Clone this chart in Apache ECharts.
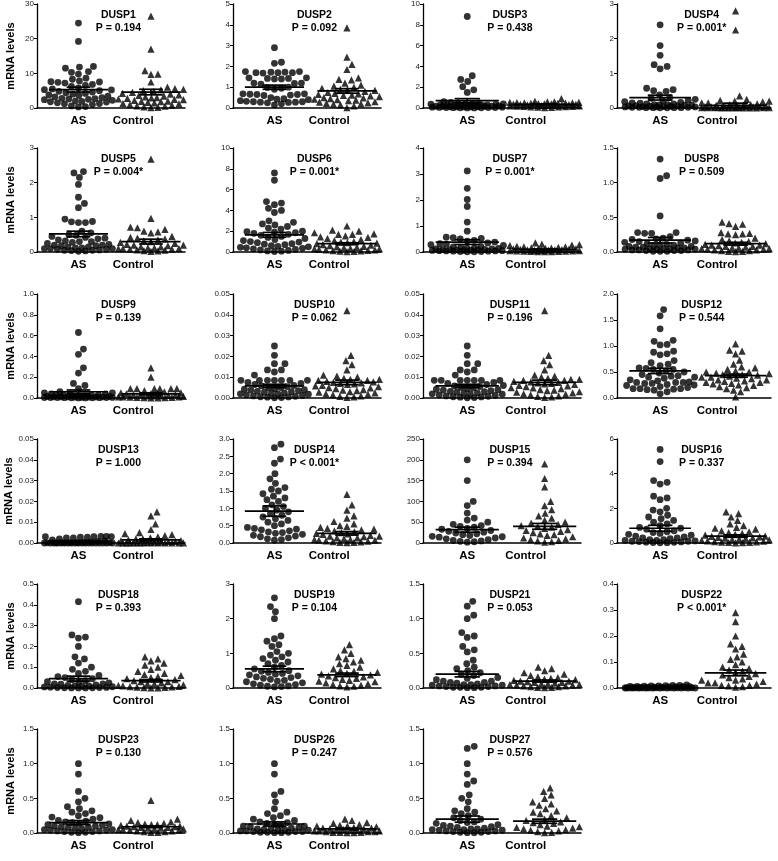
<!DOCTYPE html>
<html><head><meta charset="utf-8">
<script src="https://cdn.jsdelivr.net/npm/echarts@6/dist/echarts.min.js"></script>
<style>html,body{margin:0;padding:0;background:#fff}#c{width:778px;height:861px}</style>
</head><body><div id="c"></div>
<script>
// ---------- DATA ----------
const genes = ['DUSP1','DUSP2','DUSP3','DUSP4','DUSP5','DUSP6','DUSP7','DUSP8','DUSP9','DUSP10','DUSP11','DUSP12','DUSP13','DUSP14','DUSP15','DUSP16','DUSP18','DUSP19','DUSP21','DUSP22','DUSP23','DUSP26','DUSP27'];
const pLabels = ['P = 0.194','P = 0.092','P = 0.438','P = 0.001*','P = 0.004*','P = 0.001*','P = 0.001*','P = 0.509','P = 0.139','P = 0.062','P = 0.196','P = 0.544','P = 1.000','P < 0.001*','P = 0.394','P = 0.337','P = 0.393','P = 0.104','P = 0.053','P < 0.001*','P = 0.130','P = 0.247','P = 0.576'];
const groups = ['AS','Control'];
const yMax  = [30,5,10,3,3,10,4,1.5,1.0,0.05,0.05,2.0,0.05,3.0,250,6,0.5,3,1.5,0.4,1.5,1.5,1.5];
const yStep = [10,1,2,1,1,2,1,0.5,0.2,0.01,0.01,0.5,0.01,0.5,50,2,0.1,1,0.5,0.1,0.5,0.5,0.5];
const yDecimals = [0,0,0,0,0,0,0,1,1,2,2,1,2,1,0,0,1,0,1,1,1,1,1];

const meanAS   = [5.3,1.0,0.7,0.3,0.52,1.65,0.38,0.17,0.06,0.0058,0.0058,0.52,0.0006,0.92,32,0.85,0.045,0.55,0.2,0.004,0.15,0.13,0.2];
const semAS    = [0.7,0.1,0.2,0.07,0.08,0.23,0.09,0.04,0.017,0.0008,0.0008,0.05,0.0002,0.15,6,0.17,0.012,0.08,0.04,0.001,0.03,0.03,0.045];
const meanCtrl = [4.6,0.82,0.35,0.08,0.3,0.8,0.1,0.12,0.04,0.0075,0.0075,0.43,0.0015,0.28,40,0.4,0.035,0.38,0.1,0.058,0.09,0.06,0.17];
const semCtrl  = [0.8,0.11,0.04,0.06,0.07,0.09,0.015,0.02,0.01,0.0011,0.0011,0.03,0.0005,0.05,7,0.07,0.006,0.05,0.015,0.011,0.012,0.01,0.03];

const dusp1AS = [24.5,19.2,12.0,11.8,11.5,10.5,10.3,9.8,8.6,8.3,7.8,7.6,7.5,7.4,7.2,6.8,6.5,6.2,5.8,5.5,5.3,5.2,5.0,4.8,4.6,4.4,4.2,4.0,3.8,3.6,3.4,3.2,3.0,2.8,2.7,2.6,2.5,2.4,2.2,2.0,1.9,1.8,1.7,1.5,1.3,1.2,1.0,0.6,0.4,0.3];
const dusp1Ctrl = [26.5,17.0,10.8,9.8,9.7,7.5,6.0,5.6,5.4,5.2,5.0,4.8,4.5,4.2,4.0,3.8,3.6,3.4,3.2,3.0,2.9,2.8,2.6,2.5,2.4,2.2,2.0,1.9,1.8,1.6,1.5,1.3,1.2,1.0,0.8,0.6,0.5,0.3,0.2,0.1];
const dusp2AS = [2.9,2.2,2.15,1.75,1.75,1.72,1.72,1.7,1.7,1.7,1.68,1.45,1.45,1.42,1.42,1.4,1.4,1.2,1.2,1.18,1.15,1.0,0.98,0.95,0.9,0.68,0.68,0.66,0.65,0.65,0.62,0.6,0.5,0.45,0.42,0.4,0.35,0.32,0.3,0.3,0.28,0.28,0.27,0.25,0.2,0.15];
const dusp2Ctrl = [3.85,2.45,2.1,1.85,1.45,1.38,1.35,1.2,1.1,1.05,1.0,0.95,0.9,0.88,0.85,0.8,0.75,0.7,0.68,0.65,0.62,0.6,0.58,0.55,0.5,0.48,0.45,0.42,0.4,0.38,0.35,0.3,0.28,0.25,0.22,0.2,0.18,0.15,0.1,0.02];
const dusp3AS = [8.8,3.1,2.75,2.55,2.05,1.75,1.5,0.6,0.55,0.5,0.5,0.45,0.42,0.4,0.38,0.35,0.33,0.3,0.3,0.28,0.25,0.25,0.22,0.2,0.2,0.18,0.18,0.15,0.15,0.12,0.12,0.1,0.1,0.1,0.08,0.08,0.06,0.05,0.05,0.04,0.03,0.02,0.02,0.01,0.01];
const dusp3Ctrl = [0.9,0.65,0.6,0.58,0.55,0.55,0.52,0.5,0.5,0.48,0.45,0.45,0.42,0.4,0.4,0.38,0.35,0.35,0.33,0.3,0.3,0.28,0.25,0.25,0.22,0.2,0.2,0.18,0.15,0.15,0.12,0.1,0.1,0.08,0.05,0.03];
const dusp4AS = [2.4,1.8,1.52,1.25,1.2,1.13,0.57,0.53,0.5,0.48,0.38,0.3,0.28,0.25,0.22,0.2,0.18,0.16,0.15,0.14,0.12,0.12,0.1,0.1,0.09,0.08,0.08,0.07,0.06,0.06,0.05,0.05,0.04,0.04,0.03,0.03,0.03,0.02,0.02,0.02,0.01,0.01,0.01,0.01,0.005,0.005];
const dusp4Ctrl = [2.8,2.25,0.35,0.25,0.22,0.2,0.2,0.18,0.15,0.15,0.12,0.1,0.1,0.08,0.08,0.06,0.05,0.05,0.04,0.04,0.03,0.03,0.03,0.02,0.02,0.02,0.02,0.01,0.01,0.01,0.01,0.01,0.005,0.005,0.005,0.005,0.002,0.002];
const dusp5AS = [2.32,2.28,2.15,1.95,1.58,1.4,1.28,0.95,0.88,0.87,0.85,0.85,0.6,0.55,0.5,0.48,0.45,0.42,0.4,0.38,0.35,0.32,0.3,0.3,0.28,0.25,0.22,0.2,0.2,0.18,0.18,0.15,0.15,0.12,0.12,0.1,0.1,0.1,0.08,0.08,0.06,0.05,0.05,0.04,0.03,0.02];
const dusp5Ctrl = [2.68,0.97,0.72,0.7,0.65,0.6,0.58,0.55,0.45,0.42,0.4,0.38,0.35,0.32,0.3,0.28,0.25,0.22,0.2,0.2,0.18,0.15,0.15,0.12,0.12,0.1,0.1,0.1,0.08,0.08,0.06,0.05,0.04,0.03,0.02];
const dusp6AS = [7.6,6.9,4.85,4.7,4.55,4.2,4.0,3.8,3.0,2.85,2.7,2.6,2.45,2.3,2.2,2.0,1.95,1.9,1.85,1.8,1.7,1.6,1.5,1.4,1.3,1.2,1.1,1.0,0.95,0.9,0.8,0.75,0.7,0.6,0.55,0.5,0.45,0.4,0.35,0.3,0.25,0.2,0.15,0.1,0.08,0.05];
const dusp6Ctrl = [2.5,2.1,2.0,1.85,1.75,1.7,1.7,1.55,1.45,1.4,1.3,1.2,1.1,1.0,0.95,0.9,0.85,0.8,0.7,0.65,0.6,0.55,0.5,0.45,0.4,0.35,0.3,0.3,0.25,0.2,0.2,0.15,0.12,0.1,0.08,0.05,0.03];
const dusp7AS = [3.12,2.45,2.02,1.75,1.15,0.8,0.57,0.55,0.52,0.5,0.45,0.42,0.38,0.35,0.32,0.3,0.28,0.25,0.22,0.2,0.18,0.16,0.15,0.14,0.12,0.12,0.1,0.1,0.09,0.08,0.08,0.07,0.06,0.06,0.05,0.05,0.04,0.04,0.03,0.03,0.02,0.02,0.01,0.01];
const dusp7Ctrl = [0.35,0.3,0.28,0.27,0.25,0.22,0.2,0.2,0.18,0.16,0.15,0.14,0.13,0.12,0.11,0.1,0.1,0.09,0.08,0.08,0.07,0.06,0.06,0.05,0.05,0.04,0.04,0.03,0.03,0.02,0.02,0.01,0.01,0.01];
const dusp8AS = [1.34,1.1,1.06,0.52,0.28,0.28,0.27,0.27,0.22,0.2,0.19,0.18,0.17,0.16,0.15,0.14,0.13,0.12,0.11,0.1,0.1,0.09,0.08,0.08,0.07,0.07,0.06,0.06,0.05,0.05,0.05,0.04,0.04,0.04,0.03,0.03,0.03,0.02,0.02,0.02,0.01,0.01,0.01];
const dusp8Ctrl = [0.43,0.41,0.4,0.37,0.28,0.27,0.26,0.26,0.25,0.2,0.18,0.16,0.15,0.14,0.13,0.12,0.11,0.1,0.1,0.09,0.08,0.08,0.07,0.06,0.06,0.05,0.05,0.04,0.04,0.03,0.03,0.02,0.02,0.01,0.01,0.005];
const dusp9AS = [0.63,0.47,0.42,0.29,0.24,0.14,0.12,0.09,0.06,0.05,0.05,0.04,0.04,0.04,0.03,0.03,0.03,0.03,0.02,0.02,0.02,0.02,0.02,0.015,0.015,0.01,0.01,0.01,0.01,0.01,0.008,0.008,0.006,0.006,0.005,0.005,0.004,0.004,0.003,0.003,0.002,0.002,0.001,0.001];
const dusp9Ctrl = [0.29,0.2,0.09,0.09,0.09,0.09,0.09,0.09,0.07,0.06,0.05,0.05,0.04,0.04,0.04,0.03,0.03,0.03,0.025,0.02,0.02,0.02,0.015,0.01,0.01,0.01,0.008,0.006,0.005,0.004,0.003,0.002,0.001];
const dusp10AS = [0.025,0.0205,0.0165,0.0165,0.0135,0.0135,0.0125,0.011,0.0085,0.0085,0.0085,0.0085,0.0085,0.0085,0.0085,0.0075,0.007,0.0065,0.006,0.0058,0.0055,0.005,0.0048,0.0045,0.0042,0.004,0.0038,0.0035,0.0032,0.003,0.0028,0.0025,0.0022,0.002,0.002,0.0018,0.0015,0.0012,0.001,0.0008,0.0006,0.0005,0.0004,0.0002,0.0001];
const dusp10Ctrl = [0.042,0.0205,0.018,0.016,0.0135,0.011,0.0105,0.01,0.0095,0.009,0.009,0.0085,0.0085,0.008,0.0078,0.0075,0.0072,0.007,0.0068,0.0065,0.006,0.0058,0.0055,0.005,0.0048,0.0045,0.004,0.0038,0.0035,0.003,0.0028,0.0025,0.002,0.0018,0.0015,0.001,0.0008,0.0005,0.0003];
const dusp11AS = [0.025,0.0205,0.0165,0.0165,0.0135,0.0135,0.0125,0.011,0.0085,0.0085,0.0085,0.0085,0.0085,0.0085,0.0085,0.0075,0.007,0.0065,0.006,0.0058,0.0055,0.005,0.0048,0.0045,0.0042,0.004,0.0038,0.0035,0.0032,0.003,0.0028,0.0025,0.0022,0.002,0.002,0.0018,0.0015,0.0012,0.001,0.0008,0.0006,0.0005,0.0004,0.0002,0.0001];
const dusp11Ctrl = [0.042,0.0205,0.018,0.016,0.0135,0.011,0.0105,0.01,0.0095,0.009,0.009,0.0085,0.0085,0.008,0.0078,0.0075,0.0072,0.007,0.0068,0.0065,0.006,0.0058,0.0055,0.005,0.0048,0.0045,0.004,0.0038,0.0035,0.003,0.0028,0.0025,0.002,0.0018,0.0015,0.001,0.0008,0.0005,0.0003];
const dusp12AS = [1.7,1.58,1.33,1.11,1.09,1.03,1.02,0.9,0.88,0.85,0.83,0.72,0.68,0.65,0.62,0.58,0.57,0.55,0.55,0.52,0.5,0.48,0.45,0.43,0.42,0.4,0.4,0.38,0.35,0.33,0.31,0.3,0.3,0.3,0.28,0.28,0.26,0.25,0.24,0.22,0.2,0.18,0.18,0.18,0.17,0.16,0.15,0.12,0.08];
const dusp12Ctrl = [1.04,0.92,0.9,0.85,0.73,0.65,0.6,0.58,0.55,0.52,0.5,0.5,0.48,0.47,0.45,0.45,0.44,0.42,0.4,0.4,0.38,0.37,0.35,0.35,0.33,0.32,0.3,0.3,0.28,0.27,0.25,0.24,0.22,0.2,0.18,0.15,0.12,0.02];
const dusp13AS = [0.0032,0.0032,0.003,0.003,0.003,0.0028,0.0028,0.0025,0.0025,0.002,0.0015,0.001,0.0008,0.0005,0.0004,0.0003,0.0002,0.0002,0.0001,0.0001,0.0001,0,0,0,0,0,0,0,0,0,0,0,0,0,0,0,0,0,0,0];
const dusp13Ctrl = [0.015,0.013,0.0092,0.0065,0.005,0.0045,0.004,0.0035,0.003,0.0025,0.002,0.002,0.0015,0.0012,0.001,0.0008,0.0006,0.0005,0.0004,0.0003,0.0002,0.0002,0.0001,0.0001,0,0,0,0,0,0,0,0,0,0];
const dusp14AS = [2.85,2.75,2.42,2.3,2.0,1.85,1.72,1.6,1.55,1.5,1.42,1.35,1.3,1.25,1.2,1.1,1.05,1.0,0.95,0.9,0.85,0.8,0.75,0.7,0.65,0.6,0.55,0.5,0.45,0.42,0.4,0.38,0.35,0.32,0.3,0.28,0.25,0.22,0.2,0.18,0.15,0.12,0.1,0.08];
const dusp14Ctrl = [1.4,1.1,0.95,0.78,0.72,0.62,0.55,0.5,0.48,0.45,0.42,0.4,0.38,0.35,0.32,0.3,0.28,0.26,0.25,0.22,0.2,0.2,0.18,0.15,0.15,0.12,0.1,0.1,0.08,0.08,0.06,0.05,0.04,0.03,0.02,0.02,0.01];
const dusp15AS = [200,150,100,90,72,60,55,50,45,42,40,38,35,33,30,28,26,24,22,20,18,16,15,14,12,10,8,6,5,4,3,2];
const dusp15Ctrl = [190,155,135,100,90,80,72,65,60,55,50,48,45,42,40,38,35,32,30,28,25,22,20,18,15,12,10,8,6,5,3,2];
const dusp16AS = [5.4,4.7,3.6,3.5,3.4,2.7,2.6,2.5,2.0,1.9,1.8,1.6,1.5,1.4,1.3,1.2,1.1,1.0,0.9,0.85,0.8,0.7,0.65,0.6,0.55,0.5,0.45,0.4,0.35,0.3,0.3,0.25,0.2,0.2,0.15,0.15,0.12,0.1,0.1,0.08,0.06,0.05,0.04,0.03,0.02,0.01];
const dusp16Ctrl = [1.8,1.7,1.5,1.3,1.1,1.0,0.9,0.85,0.8,0.7,0.65,0.6,0.55,0.5,0.45,0.4,0.38,0.35,0.32,0.3,0.28,0.25,0.22,0.2,0.18,0.15,0.12,0.1,0.08,0.06,0.05,0.04,0.03,0.02,0.01];
const dusp18AS = [0.415,0.255,0.245,0.24,0.2,0.15,0.14,0.12,0.1,0.09,0.08,0.07,0.06,0.055,0.05,0.045,0.04,0.035,0.03,0.03,0.025,0.02,0.02,0.018,0.015,0.012,0.01,0.01,0.008,0.006,0.005,0.004,0.003,0.002,0.002,0.001,0.001,0.0005,0.0005,0.0002];
const dusp18Ctrl = [0.15,0.14,0.13,0.12,0.11,0.1,0.09,0.08,0.07,0.065,0.06,0.055,0.05,0.045,0.04,0.035,0.03,0.03,0.025,0.02,0.02,0.015,0.012,0.01,0.008,0.006,0.005,0.004,0.003,0.002,0.001,0.001];
const dusp19AS = [2.6,2.35,2.2,2.0,1.5,1.42,1.35,1.25,1.2,1.05,1.0,0.95,0.9,0.85,0.8,0.75,0.7,0.65,0.6,0.55,0.5,0.48,0.45,0.42,0.4,0.38,0.35,0.32,0.3,0.28,0.25,0.22,0.2,0.18,0.15,0.12,0.1,0.08,0.06,0.05,0.04,0.03];
const dusp19Ctrl = [1.25,1.1,1.0,0.9,0.85,0.8,0.75,0.7,0.65,0.6,0.55,0.5,0.48,0.45,0.42,0.4,0.38,0.35,0.32,0.3,0.28,0.25,0.22,0.2,0.18,0.15,0.12,0.1,0.08,0.06,0.05,0.03];
const dusp21AS = [1.25,1.18,1.05,1.0,0.8,0.75,0.73,0.6,0.55,0.52,0.4,0.35,0.3,0.28,0.25,0.22,0.2,0.18,0.15,0.14,0.12,0.1,0.1,0.08,0.08,0.07,0.06,0.05,0.05,0.04,0.04,0.03,0.03,0.02,0.02,0.01,0.01,0.01,0.005,0.005];
const dusp21Ctrl = [0.3,0.28,0.25,0.22,0.2,0.18,0.16,0.15,0.14,0.13,0.12,0.11,0.1,0.1,0.09,0.08,0.08,0.07,0.06,0.06,0.05,0.05,0.04,0.04,0.03,0.03,0.02,0.02,0.01,0.01,0.005];
const dusp22AS = [0.012,0.01,0.01,0.009,0.008,0.008,0.007,0.006,0.006,0.005,0.005,0.004,0.004,0.003,0.003,0.002,0.002,0.002,0.001,0.001,0.001,0.001,0.0005,0.0005,0.0005,0.0002,0.0002,0.0001,0.0001,0,0,0,0,0,0,0,0,0,0,0];
const dusp22Ctrl = [0.29,0.255,0.2,0.17,0.16,0.15,0.13,0.12,0.11,0.1,0.09,0.08,0.075,0.07,0.065,0.06,0.055,0.05,0.045,0.04,0.035,0.03,0.03,0.025,0.02,0.02,0.015,0.01,0.01,0.008,0.005,0.003];
const dusp23AS = [1.0,0.85,0.6,0.5,0.45,0.38,0.35,0.32,0.3,0.28,0.25,0.23,0.22,0.2,0.18,0.17,0.16,0.15,0.14,0.13,0.12,0.11,0.1,0.1,0.09,0.08,0.08,0.07,0.06,0.05,0.05,0.04,0.04,0.03,0.03,0.02,0.02,0.01,0.01,0.005];
const dusp23Ctrl = [0.47,0.2,0.18,0.16,0.15,0.14,0.13,0.12,0.12,0.11,0.1,0.1,0.09,0.09,0.08,0.08,0.07,0.07,0.06,0.06,0.05,0.05,0.04,0.04,0.03,0.03,0.02,0.02,0.01,0.01];
const dusp26AS = [1.0,0.85,0.6,0.55,0.45,0.35,0.3,0.28,0.25,0.22,0.2,0.18,0.16,0.15,0.14,0.12,0.11,0.1,0.1,0.09,0.08,0.07,0.06,0.06,0.05,0.05,0.04,0.04,0.03,0.03,0.02,0.02,0.02,0.01,0.01,0.01,0.005,0.005];
const dusp26Ctrl = [0.2,0.18,0.15,0.14,0.12,0.11,0.1,0.1,0.09,0.08,0.07,0.07,0.06,0.06,0.05,0.05,0.04,0.04,0.03,0.03,0.03,0.02,0.02,0.02,0.01,0.01,0.01,0.005,0.005];
const dusp27AS = [1.25,1.22,1.0,0.85,0.75,0.7,0.55,0.5,0.45,0.35,0.32,0.3,0.28,0.25,0.22,0.2,0.18,0.16,0.15,0.14,0.12,0.11,0.1,0.09,0.08,0.07,0.06,0.06,0.05,0.05,0.04,0.04,0.03,0.03,0.02,0.02,0.01,0.01,0.005,0.005];
const dusp27Ctrl = [0.65,0.6,0.55,0.5,0.45,0.42,0.4,0.35,0.32,0.3,0.28,0.25,0.22,0.2,0.18,0.16,0.15,0.14,0.12,0.1,0.09,0.08,0.07,0.06,0.05,0.04,0.03,0.02,0.01,0.005];

const asSets = [dusp1AS,dusp2AS,dusp3AS,dusp4AS,dusp5AS,dusp6AS,dusp7AS,dusp8AS,dusp9AS,dusp10AS,dusp11AS,dusp12AS,dusp13AS,dusp14AS,dusp15AS,dusp16AS,dusp18AS,dusp19AS,dusp21AS,dusp22AS,dusp23AS,dusp26AS,dusp27AS];
const ctrlSets = [dusp1Ctrl,dusp2Ctrl,dusp3Ctrl,dusp4Ctrl,dusp5Ctrl,dusp6Ctrl,dusp7Ctrl,dusp8Ctrl,dusp9Ctrl,dusp10Ctrl,dusp11Ctrl,dusp12Ctrl,dusp13Ctrl,dusp14Ctrl,dusp15Ctrl,dusp16Ctrl,dusp18Ctrl,dusp19Ctrl,dusp21Ctrl,dusp22Ctrl,dusp23Ctrl,dusp26Ctrl,dusp27Ctrl];

// ---------- LAYOUT ----------
const FONT = '"Liberation Sans", Arial, sans-serif';
const colLeft  = [37, 233, 423, 617];
const colRight = [185, 381, 581, 771];
const rowTop   = [4, 148, 294, 439, 584, 729];
const plotH = 104;
const posAS = 0.28, posCtrl = 0.77, labAS = 0.28, labCtrl = 0.65;
const DOT = 7;

// deterministic beeswarm (layout only): returns horizontal pixel offsets
function swarm(vals, vmax, H, D, maxHalf) {
  const pts = vals.map((v, i) => ({ i, py: v / vmax * H })).sort((a, b) => a.py - b.py);
  const placed = [];
  const out = new Array(vals.length).fill(0);
  for (const p of pts) {
    let best = null;
    for (let k = 0; k <= maxHalf && best === null; k += 0.5) {
      const cands = k === 0 ? [0] : [k, -k];
      for (const s of cands) {
        let ok = true;
        for (const q of placed) {
          const dx = s - q.ox, dy = p.py - q.py;
          if (dx * dx + dy * dy < D * D) { ok = false; break; }
        }
        if (ok) { best = s; break; }
      }
    }
    if (best === null) {
      let bestD = -1;
      for (let s = -maxHalf; s <= maxHalf; s += 0.5) {
        let md = Infinity;
        for (const q of placed) {
          const dx = s - q.ox, dy = p.py - q.py;
          md = Math.min(md, dx * dx + dy * dy);
        }
        if (md > bestD) { bestD = md; best = s; }
      }
    }
    p.ox = best; placed.push(p); out[p.i] = best;
  }
  return out;
}

const option = { animation: false, title: [], grid: [], xAxis: [], yAxis: [], series: [] };

genes.forEach((g, i) => {
  const r = Math.floor(i / 4), c = i % 4;
  const L = colLeft[c], W = colRight[c] - colLeft[c], T = rowTop[r], H = plotH;
  option.grid.push({ left: L, top: T, width: W, height: H });
  option.title.push({
    text: g + '\n' + pLabels[i], left: L + W * 0.55, top: T + 4, textAlign: 'center', padding: 0,
    textStyle: { fontFamily: FONT, fontSize: 10.5, fontWeight: 'bold', color: '#000', lineHeight: 13.5 }
  });
  option.xAxis.push({
    type: 'value', gridIndex: i, min: 0, max: 1,
    splitLine: { show: false }, axisTick: { show: false },
    axisLine: { onZero: false, lineStyle: { color: '#000', width: 1.5 } },
    axisLabel: { customValues: [labAS, labCtrl], formatter: v => (v < 0.5 ? groups[0] : groups[1]),
      fontFamily: FONT, fontSize: 11.5, fontWeight: 'bold', color: '#000', margin: 7 }
  });
  const dec = yDecimals[i];
  const ya = {
    type: 'value', gridIndex: i, min: 0, max: yMax[i], interval: yStep[i],
    splitLine: { show: false },
    axisLine: { show: true, lineStyle: { color: '#000', width: 1.3 } },
    axisTick: { show: true, length: 3, lineStyle: { color: '#000', width: 1 } },
    axisLabel: { formatter: v => v.toFixed(dec), fontFamily: FONT, fontSize: 8, color: '#222', margin: 3 }
  };
  if (c === 0) {
    Object.assign(ya, { name: 'mRNA levels', nameLocation: 'middle', nameRotate: 90, nameGap: 21,
      nameTextStyle: { fontFamily: FONT, fontSize: 11, fontWeight: 'bold', color: '#000' } });
  }
  option.yAxis.push(ya);

  const offA = swarm(asSets[i], yMax[i], H, DOT, W * 0.23);
  const offC = swarm(ctrlSets[i], yMax[i], H, DOT, W * 0.22);
  option.series.push({
    type: 'scatter', xAxisIndex: i, yAxisIndex: i, symbol: 'circle', symbolSize: 6.8,
    itemStyle: { color: '#000' }, silent: true,
    data: asSets[i].map((v, k) => [posAS + offA[k] / W, v])
  });
  option.series.push({
    type: 'scatter', xAxisIndex: i, yAxisIndex: i, symbol: 'triangle', symbolSize: 7.2,
    itemStyle: { color: '#000' }, silent: true,
    data: ctrlSets[i].map((v, k) => [posCtrl + offC[k] / W, v])
  });
  const halfLong = W * 0.2, halfCap = W * 0.08;
  option.series.push({
    type: 'custom', xAxisIndex: i, yAxisIndex: i, z: 10, silent: true,
    data: [[posAS, meanAS[i], semAS[i]], [posCtrl, meanCtrl[i], semCtrl[i]]],
    renderItem: (params, api) => {
      const cx = api.value(0), m = api.value(1), s = api.value(2);
      const pm = api.coord([cx, m]), pt = api.coord([cx, m + s]), pb = api.coord([cx, Math.max(0, m - s)]);
      const st = { stroke: '#000', lineWidth: 1.7 };
      const ln = (x1, y1, x2, y2) => ({ type: 'line', shape: { x1, y1, x2, y2 }, style: st });
      return { type: 'group', children: [
        ln(pm[0] - halfLong, pm[1], pm[0] + halfLong, pm[1]),
        ln(pm[0] - halfCap, pt[1], pm[0] + halfCap, pt[1]),
        ln(pm[0] - halfCap, pb[1], pm[0] + halfCap, pb[1]),
        ln(pm[0], pt[1], pm[0], pb[1])
      ]};
    }
  });
});

const chart = echarts.init(document.getElementById('c'), null, { renderer: 'canvas' });
chart.setOption(option);
</script>
</body></html>
